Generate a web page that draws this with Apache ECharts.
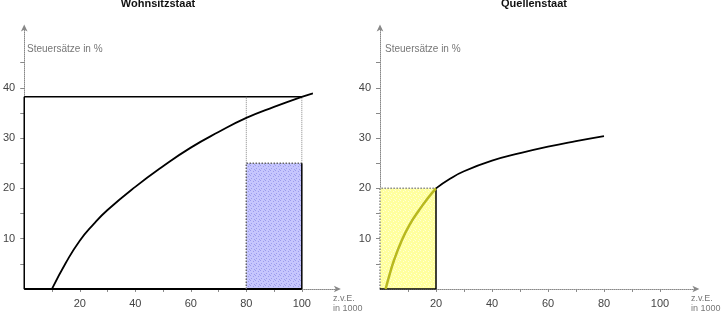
<!DOCTYPE html>
<html>
<head>
<meta charset="utf-8">
<script src="https://cdn.jsdelivr.net/npm/echarts@6/dist/echarts.min.js"></script>
<style>
  html, body { margin: 0; padding: 0; background: #fff; }
  #chart { width: 724px; height: 315px; }
</style>
</head>
<body>
<div id="chart"></div>
<script>
// Wohnsitzstaat: tariff curve (income in 1000, rate in %)
const resCurveX = [10, 15, 20, 25, 30, 40, 50, 60, 70, 80, 90, 100, 104];
const resCurveY = [0, 5.2, 9.6, 12.9, 15.7, 20.3, 24.4, 28.1, 31.2, 34, 36.2, 38.2, 38.9];
const resIncome = 100;       // total income
const resRate = 38.2;        // average rate on world income
const creditFrom = 80;       // foreign income band
const creditRate = 25;       // credited foreign tax

// Quellenstaat: tariff curve, low part (inside box) and high part
const srcLowX = [2, 3.5, 5, 7.5, 10.5, 14, 17, 20];
const srcLowY = [0, 3, 5.7, 9.3, 12.7, 15.7, 18, 20];
const srcHighX = [20, 25, 30, 40, 50, 60, 70, 80];
const srcHighY = [20, 21.9, 23.4, 25.5, 27, 28.3, 29.4, 30.4];
const srcIncome = 20;
const srcRate = 20;

// axes
const xTicks = [10, 20, 30, 40, 50, 60, 70, 80, 90, 100];
const xLabels = [20, 40, 60, 80, 100];
const yTicks = [5, 10, 15, 20, 25, 30, 35, 40, 45];
const yLabels = [10, 20, 30, 40];
const xMax = 113;
const yMax = 52;

const zip = (xs, ys) => xs.map((x, i) => [x, ys[i]]);

function dotPattern(base, dot, dots) {
  const c = document.createElement("canvas");
  c.width = 5; c.height = 5;
  const g = c.getContext("2d");
  g.fillStyle = base; g.fillRect(0, 0, 5, 5);
  g.fillStyle = dot;
  dots.forEach(([x, y]) => g.fillRect(x, y, 1, 1));
  return { image: c, repeat: "repeat" };
}
const bluePattern = dotPattern("#c6c6fd", "#9c9cec", [[0, 0], [3, 1], [1, 3], [4, 4]]);
const yellowPattern = dotPattern("#ffff9e", "#ffffd4", [[0, 0], [3, 1], [1, 3], [4, 4]]);

const font = "'Liberation Sans', Arial, sans-serif";

const xAxisBase = (gridIndex) => ({
  gridIndex, type: "value", min: 0, max: xMax,
  splitLine: { show: false },
  axisLine: { show: true, symbol: ["none", "arrow"], symbolSize: [5, 7], symbolOffset: [0, 3],
    lineStyle: { color: "#888", type: "dotted", width: 1 } },
  axisTick: { show: true, length: 3, customValues: xTicks, lineStyle: { color: "#888" } },
  axisLabel: { customValues: xLabels, margin: 10, fontSize: 11, color: "#444", fontFamily: font },
});
const yAxisBase = (gridIndex) => ({
  gridIndex, type: "value", min: 0, max: yMax,
  splitLine: { show: false },
  axisLine: { show: true, symbol: ["none", "arrow"], symbolSize: [5, 7], symbolOffset: [0, 3],
    lineStyle: { color: "#888", type: "dotted", width: 1 } },
  axisTick: { show: true, length: 4, customValues: yTicks, lineStyle: { color: "#888" } },
  axisLabel: { customValues: yLabels, margin: 9, fontSize: 11, color: "#444", fontFamily: font },
});

const seg = (idx, pts, color, type, width) => ({
  type: "line", xAxisIndex: idx, yAxisIndex: idx, data: pts,
  showSymbol: false, silent: true, z: 3,
  lineStyle: { color, type, width },
});

const curve = (idx, xs, ys, color, width) => ({
  type: "line", xAxisIndex: idx, yAxisIndex: idx, data: zip(xs, ys),
  smooth: 0.5, showSymbol: false, silent: true, z: 4,
  lineStyle: { color, width },
});

const rect = (idx, box, fill) => ({
  type: "custom", xAxisIndex: idx, yAxisIndex: idx, data: [box], silent: true, z: 1,
  renderItem: (params, api) => {
    const p0 = api.coord([api.value(0), api.value(1)]);
    const p1 = api.coord([api.value(2), api.value(3)]);
    return {
      type: "rect",
      shape: { x: p0[0], y: p1[1], width: p1[0] - p0[0], height: p0[1] - p1[1] },
      style: { fill },
    };
  },
});

const chart = echarts.init(document.getElementById("chart"));
chart.setOption({
  animation: false,
  textStyle: { fontFamily: font },
  title: [
    { text: "Wohnsitzstaat", left: 153, top: -7, textAlign: "center",
      textStyle: { fontSize: 11, fontWeight: "bold", color: "#111", fontFamily: font } },
    { text: "Quellenstaat", left: 529, top: -7, textAlign: "center",
      textStyle: { fontSize: 11, fontWeight: "bold", color: "#111", fontFamily: font } },
  ],
  grid: [
    { left: 21.5, top: 27.4, width: xMax * 2.8, height: yMax * 5.03 },
    { left: 380, top: 27.4, width: xMax * 2.8, height: yMax * 5.03 },
  ],
  xAxis: [xAxisBase(0), xAxisBase(1)],
  yAxis: [yAxisBase(0), yAxisBase(1)],
  graphic: [
    { type: "text", left: 27, top: 44, style: { text: "Steuersätze in %", fontSize: 10, fill: "#777", fontFamily: font } },
    { type: "text", left: 385, top: 44, style: { text: "Steuersätze in %", fontSize: 10, fill: "#777", fontFamily: font } },
    { type: "text", left: 333, top: 294, style: { text: "z.v.E.\nin 1000", fontSize: 9, lineHeight: 10, fill: "#777", fontFamily: font } },
    { type: "text", left: 691, top: 294, style: { text: "z.v.E.\nin 1000", fontSize: 9, lineHeight: 10, fill: "#777", fontFamily: font } },
  ],
  series: [
    // Wohnsitzstaat
    rect(0, [creditFrom, 0, resIncome, creditRate], bluePattern),
    seg(0, [[0, 0], [resIncome, 0]], "#000", "solid", 2),
    seg(0, [[0, 0], [0, resRate]], "#000", "solid", 1.5),
    seg(0, [[0, resRate], [resIncome, resRate]], "#000", "solid", 1.5),
    seg(0, [[creditFrom, creditRate], [creditFrom, resRate]], "#888", "dotted", 1),
    seg(0, [[resIncome, creditRate], [resIncome, resRate]], "#888", "dotted", 1),
    seg(0, [[creditFrom, 0], [creditFrom, creditRate], [resIncome, creditRate]], "#666", "dotted", 1.5),
    seg(0, [[resIncome, 0], [resIncome, creditRate]], "#000", "solid", 1.5),
    curve(0, resCurveX, resCurveY, "#000", 1.8),
    // Quellenstaat
    rect(1, [0, 0, srcIncome, srcRate], yellowPattern),
    seg(1, [[0, 0], [0, srcRate], [srcIncome, srcRate]], "#888", "dotted", 1.5),
    seg(1, [[0, 0], [srcIncome, 0], [srcIncome, srcRate]], "#000", "solid", 1.5),
    curve(1, srcLowX, srcLowY, "#b8b820", 2.5),
    curve(1, srcHighX, srcHighY, "#000", 1.8),
  ],
});
</script>
</body>
</html>
